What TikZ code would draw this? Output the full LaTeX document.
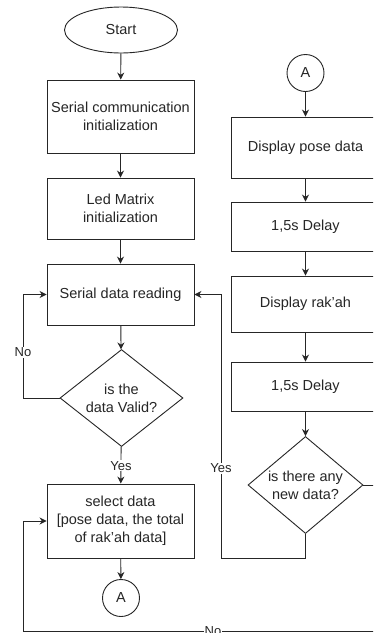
\documentclass[tikz,border=0pt]{standalone}
\usepackage{fontspec}
\setmainfont{Liberation Sans}
\usetikzlibrary{shapes.geometric,arrows.meta}
\begin{document}
\begin{tikzpicture}[x=1pt,y=-1pt,
  every node/.style={font=\fontsize{14.5}{18}\selectfont, text=black!85},
  line/.style={draw=black!85, line width=0.9pt},
  arr/.style={line, -{Stealth[length=7pt,width=7pt]}},
  box/.style={line, rectangle, minimum width=147pt, inner sep=0pt, align=center},
  dia/.style={line, diamond, inner sep=0pt, align=center},
  conn/.style={line, circle, inner sep=0pt, minimum size=37pt},
  lbl/.style={fill=white, inner sep=1pt, font=\fontsize{13}{15}\selectfont}
]
\clip (0,0) rectangle (373,633);
\fill[white] (0,0) rectangle (373,633);
% left column
\node[line, ellipse, minimum width=113pt, minimum height=46pt, inner sep=0pt] (start) at (121,30) {Start};
\node[box, minimum height=73pt] (b1) at (120.5,116.5) {Serial communication\\initialization};
\node[box, minimum height=61pt] (b2) at (120.5,208.5) {Led Matrix\\initialization};
\node[box, minimum height=61pt] (b3) at (120.5,294.5) {Serial data reading};
\node[dia, minimum width=123pt, minimum height=97pt, shape aspect=1.27] (d1) at (121.5,398) {is the\\data Valid?};
\node[box, minimum height=74pt] (b4) at (120.5,521) {select data\\{[}pose data, the total\\of rak'ah data{]}};
\node[conn] (a1) at (121,598) {A};
% right column
\node[conn] (a2) at (305.5,73) {A};
\node[box, minimum width=148pt, minimum height=61pt] (r1) at (305.5,147.5) {Display pose data};
\node[box, minimum width=148pt, minimum height=49pt] (r2) at (305.5,226.5) {1,5s Delay};
\node[box, minimum width=148pt, minimum height=56pt] (r3) at (305.5,304) {Display rak'ah};
\node[box, minimum width=148pt, minimum height=49pt] (r4) at (305.5,386.5) {1,5s Delay};
\node[dia, minimum width=115pt, minimum height=97pt, shape aspect=1.19] (d2) at (305.5,485) {is there any\\new data?};
% coordinates
\coordinate (noL) at (23,398);
\coordinate (yesB) at (305.5,558);
\coordinate (yesL) at (221,558);
\coordinate (noR) at (385,485);
\coordinate (noB) at (385,631.5);
\coordinate (noBL) at (23,631.5);
% connectors left
\draw[arr] (start) -- (b1);
\draw[arr] (b1) -- (b2);
\draw[arr] (b2) -- (b3);
\draw[arr] (b3) -- (d1);
\draw[arr] (d1) -- node[lbl, pos=0.52] {Yes} (b4);
\draw[arr] (b4) -- (a1);
\draw[arr] (d1.west) -- (noL) |- node[lbl, pos=0.22] {No} (b3.west);
% connectors right
\draw[arr] (a2) -- (r1);
\draw[arr] (r1) -- (r2);
\draw[arr] (r2) -- (r3);
\draw[arr] (r3) -- (r4);
\draw[arr] (r4) -- (d2);
\draw[arr] (d2.south) -- (yesB) -- (yesL) |- node[lbl, pos=0.17] {Yes} (b3.east);
\draw[arr] (d2.east) -- (noR) -- (noB) -- node[lbl, pos=0.475, inner sep=0.5pt] {No} (noBL) |- (b4.west);
\end{tikzpicture}
\end{document}
